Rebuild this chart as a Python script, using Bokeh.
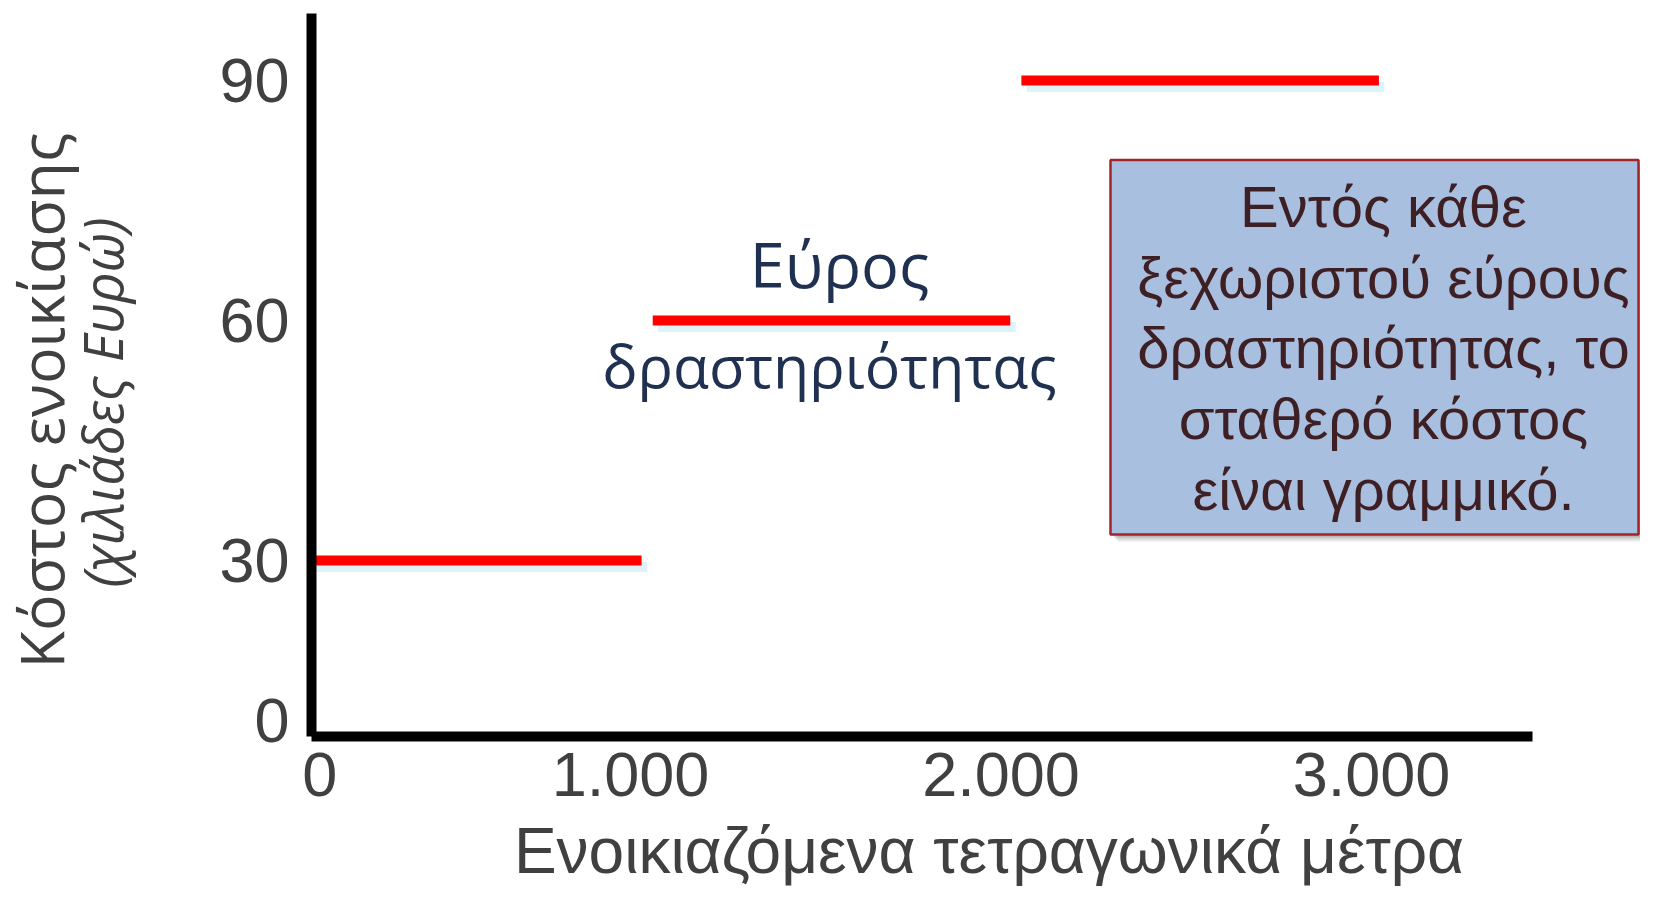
from bokeh.plotting import figure
from bokeh.models import Range1d, FixedTicker, Label, BoxAnnotation, ColumnDataSource
from bokeh.embed import file_html
from bokeh.resources import INLINE

# ---------------- data ----------------
range_start = [0, 1060, 2055]          # m2, start of each activity range
range_end = [1030, 2025, 3020]         # m2, end of each activity range
fixed_cost = [30, 60, 90]              # thousand euro
x_ticks = [0, 1000, 2000, 3000]
x_tick_labels = ["0", "1.000", "2.000", "3.000"]
y_ticks = [0, 30, 60, 90]
y_tick_labels = ["0", "30", "60", "90"]
x_title = "Ενοικιαζόμενα τετραγωνικά μέτρα"
y_title = "Κόστος ενοικίασης"
y_subtitle = "(χιλιάδες Ευρώ)"
range_label = ["Εύρος", "δραστηριότητας"]
box_lines = ["Εντός κάθε", "ξεχωριστού εύρους", "δραστηριότητας, το",
             "σταθερό κόστος", "είναι γραμμικό."]

# ---------------- layout helpers (canvas pixels -> data) ----------------
X0_PX, PX_PER_X = 259.5, 0.3705
Y0_PX, PX_PER_Y = 800.0, 8.0


def xd(px):
    return (px - X0_PX) / PX_PER_X


def yd(py):
    return (Y0_PX - py) / PX_PER_Y


W, H = 1640, 887
FRAME_L, FRAME_T, FRAME_B = 311, 13, 736   # canvas px

p = figure(width=W, height=H, output_backend="svg", toolbar_location=None,
           x_range=Range1d(xd(FRAME_L), xd(W)),
           y_range=Range1d(yd(FRAME_B), yd(FRAME_T)),
           min_border_left=FRAME_L, min_border_right=0,
           min_border_top=FRAME_T, min_border_bottom=H - FRAME_B)
p.outline_line_color = None
p.xgrid.visible = False
p.ygrid.visible = False
p.background_fill_color = "white"
p.border_fill_color = "white"

# axes: first tick label ("0") sits at the axis corner
x_tick_pos = [round(xd(319))] + x_ticks[1:]
y_tick_pos = [round(yd(718.5))] + y_ticks[1:]
p.xaxis.ticker = FixedTicker(ticks=x_tick_pos)
p.xaxis.major_label_overrides = {t: l for t, l in zip(x_tick_pos, x_tick_labels)}
p.yaxis.ticker = FixedTicker(ticks=y_tick_pos)
p.yaxis.major_label_overrides = {t: l for t, l in zip(y_tick_pos, y_tick_labels)}
p.xaxis.bounds = (xd(FRAME_L), xd(1532))

for ax in (p.xaxis, p.yaxis):
    ax.axis_line_width = 10
    ax.axis_line_color = "black"
    ax.major_tick_line_color = None
    ax.minor_tick_line_color = None
    ax.major_tick_out = 0
    ax.major_label_text_font = "Liberation Sans"
    ax.major_label_text_font_size = "63px"
    ax.major_label_text_color = "#404040"
p.yaxis.major_label_standoff = 22
p.xaxis.major_label_standoff = 16

# ---------------- axis titles (labels placed in the side panels, unclipped) ----------------
OS_SHIFT, LS_SHIFT = 0.46, 0.33   # measured baseline shift of Label text (em)
p.add_layout(Label(x=xd(68 - OS_SHIFT * 61), y=yd(400), text=y_title, angle=1.5707963,
                   text_align="center", text_baseline="alphabetic",
                   text_font="Open Sans", text_font_size="61px",
                   text_color="#404040"), "left")
p.add_layout(Label(x=xd(126 - OS_SHIFT * 54), y=yd(402), text=y_subtitle, angle=1.5707963,
                   text_align="center", text_baseline="alphabetic",
                   text_font="Open Sans", text_font_style="italic",
                   text_font_size="54px", text_color="#404040"), "left")
p.add_layout(Label(x=xd(988.5), y=yd(872 - LS_SHIFT * 64), text=x_title,
                   text_align="center", text_baseline="alphabetic",
                   text_font="Liberation Sans", text_font_size="64px",
                   text_color="#404040"), "below")

# ---------------- step lines ----------------
sdx, sdy = 5.5 / PX_PER_X, -6.5 / PX_PER_Y
src = ColumnDataSource(dict(x0=range_start, x1=range_end, y=fixed_cost))
shadow = ColumnDataSource(dict(x0=[v + sdx for v in range_start],
                               x1=[v + sdx for v in range_end],
                               y=[v + sdy for v in fixed_cost]))
p.segment(x0="x0", y0="y", x1="x1", y1="y", source=shadow,
          line_color="#def3f8", line_width=10, line_cap="butt")
p.segment(x0="x0", y0="y", x1="x1", y1="y", source=src,
          line_color="#ff0000", line_width=10, line_cap="butt")

# ---------------- "range" label ----------------
for txt, cx, base, fs in zip(range_label, [839, 829], [286.7 - 28 + 4, 396.7 - 28 - 4],
                             ["63px", "59px"]):
    p.add_layout(Label(x=xd(cx), y=yd(base), text=txt, text_align="center",
                       text_baseline="alphabetic", text_font="Open Sans",
                       text_font_size=fs, text_color="#1f3050"))

# ---------------- note box ----------------
BL, BR, BT, BB = 1110, 1638, 159.5, 534
for off, alpha in [(7, 0.10), (5, 0.14), (3, 0.18)]:
    p.add_layout(BoxAnnotation(left=xd(BL + off), right=xd(BR + off),
                               top=yd(BT + off), bottom=yd(BB + off),
                               fill_color="#404040", fill_alpha=alpha,
                               line_color=None, level="underlay"))
p.add_layout(BoxAnnotation(left=xd(BL), right=xd(BR), top=yd(BT), bottom=yd(BB),
                           fill_color="#a9bfe0", fill_alpha=1.0,
                           line_color="#a3232b", line_width=2.5, line_alpha=1.0))
for i, txt in enumerate(box_lines):
    p.add_layout(Label(x=xd(1383), y=yd(225 - 19 + 70.7 * i), text=txt,
                       text_align="center", text_baseline="alphabetic",
                       text_font="Liberation Sans", text_font_size="58px",
                       text_color="#3e1f23"))

open("out.html", "w").write(file_html(p, INLINE))
